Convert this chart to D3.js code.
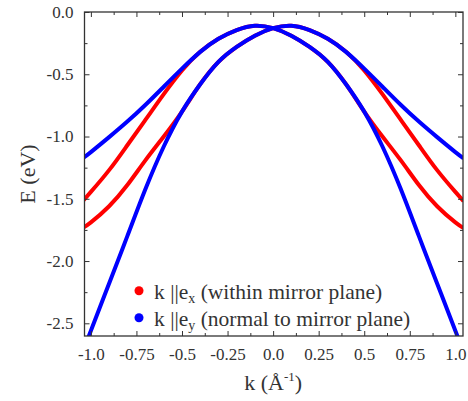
<!DOCTYPE html>
<html>
<head>
    <meta charset="utf-8">
    <title>Band dispersion</title>
    <script src="https://d3js.org/d3.v7.min.js"></script>
    <style>
        body { margin: 0; background: #fff; }
        svg text { font-family: 'Liberation Serif', 'Times New Roman', serif !important; fill: #333; }
    </style>
</head>
<body>
<svg id="chart" width="468" height="401"></svg>
<script>
    // k grid (1/Angstrom) and band energies (eV)
    var kValues = [-1.045, -1.0, -0.9, -0.8, -0.7, -0.6, -0.5, -0.4, -0.3, -0.2, -0.1, 0,
                   0.1, 0.2, 0.3, 0.4, 0.5, 0.6, 0.7, 0.8, 0.9, 1.0, 1.045];

    // k || e_x (red), two spin-split bands
    var redBandA = [-1.52, -1.445, -1.27, -1.07, -0.865, -0.66, -0.47, -0.32, -0.215, -0.145, -0.11, -0.13,
                    -0.19, -0.28, -0.40, -0.58, -0.80, -1.0, -1.19, -1.39, -1.56, -1.69, -1.735];
    var redBandB = [-1.735, -1.69, -1.56, -1.39, -1.19, -1.0, -0.80, -0.58, -0.40, -0.28, -0.19, -0.13,
                    -0.11, -0.145, -0.215, -0.32, -0.47, -0.66, -0.865, -1.07, -1.27, -1.445, -1.52];

    // k || e_y (blue), two spin-split bands
    var blueBandA = [-1.175, -1.125, -1.005, -0.88, -0.745, -0.60, -0.455, -0.32, -0.215, -0.145, -0.11, -0.13,
                     -0.19, -0.28, -0.40, -0.58, -0.80, -1.08, -1.42, -1.80, -2.18, -2.56, -2.73];
    var blueBandB = [-2.73, -2.56, -2.18, -1.80, -1.42, -1.08, -0.80, -0.58, -0.40, -0.28, -0.19, -0.13,
                     -0.11, -0.145, -0.215, -0.32, -0.455, -0.60, -0.745, -0.88, -1.005, -1.125, -1.175];

    var xTicks = [-1.0, -0.75, -0.5, -0.25, 0.0, 0.25, 0.5, 0.75, 1.0];
    var xTickLabels = ["-1.0", "-0.75", "-0.5", "-0.25", "0.0", "0.25", "0.5", "0.75", "1.0"];
    var yTicks = [0.0, -0.5, -1.0, -1.5, -2.0, -2.5];
    var yTickLabels = ["0.0", "-0.5", "-1.0", "-1.5", "-2.0", "-2.5"];

    var legendItems = [
        {color: "#ff0000", sub: "x", text: " (within mirror plane)"},
        {color: "#0000ff", sub: "y", text: " (normal to mirror plane)"}
    ];

    var margin = {top: 12, right: 5, bottom: 65, left: 84.5};
    var width = 468 - margin.left - margin.right;
    var height = 401 - margin.top - margin.bottom;
    var serif = "'Liberation Serif', 'Times New Roman', serif";

    var svg = d3.select("#chart").attr("font-family", serif);
    var g = svg.append("g").attr("transform", "translate(" + margin.left + "," + margin.top + ")");

    var x = d3.scaleLinear().domain([-1.035, 1.042]).range([0, width]);
    var y = d3.scaleLinear().domain([-2.602, 0]).range([height, 0]);

    g.append("clipPath").attr("id", "plot-clip")
        .append("rect").attr("width", width).attr("height", height);

    var line = d3.line()
        .x(function(d) { return x(d[0]); })
        .y(function(d) { return y(d[1]); })
        .curve(d3.curveNatural);

    function drawBand(values, color) {
        var pts = kValues.map(function(k, i) { return [k, values[i]]; });
        g.append("path")
            .datum(pts)
            .attr("clip-path", "url(#plot-clip)")
            .attr("fill", "none")
            .attr("stroke", color)
            .attr("stroke-width", 4)
            .attr("d", line);
    }

    // red first, blue drawn on top
    drawBand(redBandA, "#ff0000");
    drawBand(redBandB, "#ff0000");
    drawBand(blueBandA, "#0000ff");
    drawBand(blueBandB, "#0000ff");

    // minor tick positions
    var xMinor = [-0.875, -0.625, -0.375, -0.125, 0.125, 0.375, 0.625, 0.875];
    var yMinor = [-0.25, -0.75, -1.25, -1.75, -2.25];

    function styleAxis(sel) {
        sel.attr("font-family", serif).attr("font-size", 17);
        sel.select(".domain").remove();
        sel.selectAll("line").attr("stroke", "#333").attr("stroke-width", 1);
        sel.selectAll("text").attr("fill", "#333");
    }

    // bottom
    g.append("g").attr("transform", "translate(0," + height + ")")
        .call(d3.axisBottom(x).tickValues(xTicks).tickSize(-5).tickPadding(12)
            .tickFormat(function(d, i) { return xTickLabels[i]; }))
        .call(styleAxis);
    g.append("g").attr("transform", "translate(0," + height + ")")
        .call(d3.axisBottom(x).tickValues(xMinor).tickSize(-3).tickFormat(""))
        .call(styleAxis);
    // top
    g.append("g")
        .call(d3.axisTop(x).tickValues(xTicks).tickSize(-5).tickFormat(""))
        .call(styleAxis);
    g.append("g")
        .call(d3.axisTop(x).tickValues(xMinor).tickSize(-3).tickFormat(""))
        .call(styleAxis);
    // left
    g.append("g")
        .call(d3.axisLeft(y).tickValues(yTicks).tickSize(-5).tickPadding(11)
            .tickFormat(function(d, i) { return yTickLabels[i]; }))
        .call(styleAxis);
    g.append("g")
        .call(d3.axisLeft(y).tickValues(yMinor).tickSize(-3).tickFormat(""))
        .call(styleAxis);
    // right
    g.append("g").attr("transform", "translate(" + width + ",0)")
        .call(d3.axisRight(y).tickValues(yTicks).tickSize(-5).tickFormat(""))
        .call(styleAxis);
    g.append("g").attr("transform", "translate(" + width + ",0)")
        .call(d3.axisRight(y).tickValues(yMinor).tickSize(-3).tickFormat(""))
        .call(styleAxis);

    // frame
    g.append("rect")
        .attr("width", width).attr("height", height)
        .attr("fill", "none").attr("stroke", "#333").attr("stroke-width", 1.3);

    // axis titles
    svg.append("text")
        .attr("transform", "translate(35," + (margin.top + height / 2) + ") rotate(-90)")
        .attr("text-anchor", "middle")
        .attr("font-size", "22px")
        .text("E (eV)");

    var xTitle = svg.append("text")
        .attr("x", margin.left + x(0))
        .attr("y", 390)
        .attr("text-anchor", "middle")
        .attr("font-size", "22px");
    xTitle.append("tspan").text("k (Å");
    xTitle.append("tspan").attr("dy", -9).attr("font-size", "13px").text("-1");
    xTitle.append("tspan").attr("dy", 9).text(")");

    // legend
    var legend = svg.append("g");
    legendItems.forEach(function(item, i) {
        var cy = 290.7 + i * 27;
        legend.append("circle")
            .attr("cx", 139).attr("cy", cy).attr("r", 4.5)
            .attr("fill", item.color);
        var t = legend.append("text")
            .attr("x", 154).attr("y", cy + 8.5)
            .attr("font-size", "21.5px");
        t.append("tspan").text("k ||e");
        t.append("tspan").attr("dy", 4).attr("font-size", "14px").text(item.sub);
        t.append("tspan").attr("dy", -4).text(item.text);
    });
</script>
</body>
</html>
